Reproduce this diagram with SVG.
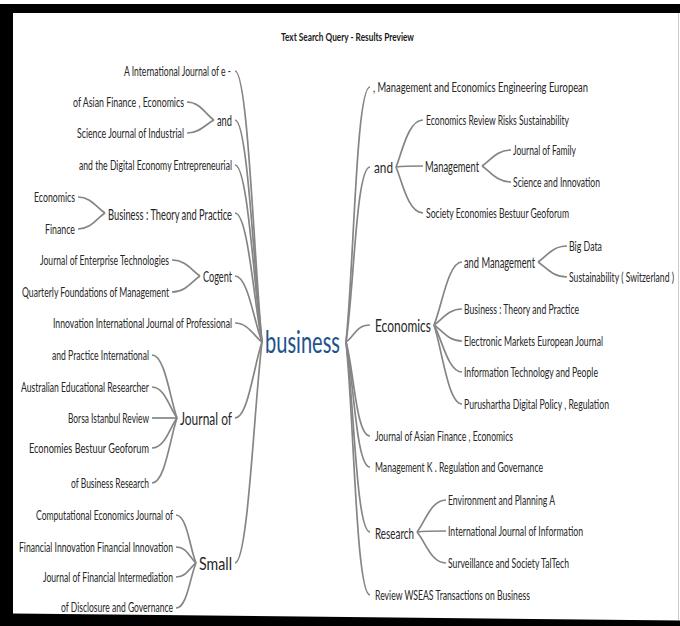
<svg xmlns="http://www.w3.org/2000/svg" width="680" height="626" viewBox="0 0 680 626">
<style>
text{font-family:Lato,"Open Sans","Liberation Sans",sans-serif;fill:#262626;dominant-baseline:central}
.lf{font-size:13px}
.r1{font-size:13.5px}
.md{font-size:14.5px}
.l1{font-size:16px}
.l2{font-size:18px}
.ttl{font-size:11.5px;font-weight:bold;fill:#1a1a1a}
.root{font-size:30px;fill:#22528c}
.c path{fill:none;stroke:#858585;stroke-width:1.7}
</style>
<rect width="680" height="626" fill="#fff"/>
<g id="frame">
<path d="M0,4 H680 V13 H13 V613.5 L680,620.5 V626 H0 Z" fill="#000"/>
<line x1="678.5" y1="13" x2="678.5" y2="620" stroke="#ccc" stroke-width="1"/>
</g>
<text class="ttl" x="281" y="36.5" textLength="133" lengthAdjust="spacingAndGlyphs">Text Search Query - Results Preview</text>
<g class="c" id="connectors">
<path d="M235,71 C248,71 254,260 262,342"/>
<path d="M235,120 C248,120 254,276 262,342"/>
<path d="M235,165 C248,165 254,289 262,342"/>
<path d="M235,213 C248,213 254,303 262,342"/>
<path d="M235,276 C248,276 254,322 262,342"/>
<path d="M235,323 C248,323 254,336 262,342"/>
<path d="M235,418 C248,418 254,365 262,342"/>
<path d="M235,563 C248,563 254,408 262,342"/>
<path d="M346,342 C354,265 356,87 370,87"/>
<path d="M346,342 C354,289 356,167 370,167"/>
<path d="M346,342 C354,337 356,325 370,325"/>
<path d="M346,342 C354,370 356,436 370,436"/>
<path d="M346,342 C354,380 356,467 370,467"/>
<path d="M346,342 C354,399 356,532 370,532"/>
<path d="M346,342 C354,418 356,595 370,595"/>
<path d="M187,102 C200,102 206,115 214,120"/>
<path d="M187,133 C200,133 206,124 214,120"/>
<path d="M78,197 C91,197 97,208 105,213"/>
<path d="M78,229 C91,229 97,218 105,213"/>
<path d="M172,260 C186,260 192,271 200,276"/>
<path d="M172,292 C186,292 192,281 200,276"/>
<path d="M152,355 C165,355 170,399 177,418"/>
<path d="M152,387 C165,387 170,409 177,418"/>
<path d="M152,418 C165,418 170,418 177,418"/>
<path d="M152,448 C165,448 170,427 177,418"/>
<path d="M152,483 C165,483 170,438 177,418"/>
<path d="M176,515 C187,515 190,549 196,563"/>
<path d="M176,547 C187,547 190,558 196,563"/>
<path d="M176,577 C187,577 190,567 196,563"/>
<path d="M176,608 C187,608 190,577 196,563"/>
<path d="M396,167 C402,153 408,120 423,120"/>
<path d="M396,167 C404,166 410,166 423,166"/>
<path d="M396,167 C402,181 408,213 423,213"/>
<path d="M482,166 C490,161 496,150 511,150"/>
<path d="M482,166 C490,171 496,182 511,182"/>
<path d="M434,325 C442,306 448,262 462,262"/>
<path d="M434,325 C442,320 448,309 462,309"/>
<path d="M434,325 C442,330 448,341 462,341"/>
<path d="M434,325 C442,339 448,372 462,372"/>
<path d="M434,325 C442,349 448,404 462,404"/>
<path d="M538,262 C546,257 552,246 567,246"/>
<path d="M538,262 C546,267 552,277 567,277"/>
<path d="M417,532 C425,522 431,500 446,500"/>
<path d="M417,532 C425,531 431,531 446,531"/>
<path d="M417,532 C425,541 431,563 446,563"/>
</g>
<g id="root"><text class="root" x="265" y="341" textLength="75" lengthAdjust="spacingAndGlyphs">business</text></g>
<g id="left">
<g id="n-l1"><text class="r1" x="124" y="71" textLength="107" lengthAdjust="spacingAndGlyphs">A International Journal of e -</text></g>
<g id="n-l2"><text class="l1" x="217" y="119" textLength="15" lengthAdjust="spacingAndGlyphs">and</text></g>
<g id="n-l2a"><text class="lf" x="73" y="102" textLength="111" lengthAdjust="spacingAndGlyphs">of Asian Finance , Economics</text></g>
<g id="n-l2b"><text class="lf" x="77" y="133" textLength="107" lengthAdjust="spacingAndGlyphs">Science Journal of Industrial</text></g>
<g id="n-l3"><text class="r1" x="79" y="165" textLength="153" lengthAdjust="spacingAndGlyphs">and the Digital Economy Entrepreneurial</text></g>
<g id="n-l4"><text class="l1" x="108" y="213" textLength="124" lengthAdjust="spacingAndGlyphs">Business : Theory and Practice</text></g>
<g id="n-l4a"><text class="lf" x="34" y="197" textLength="41" lengthAdjust="spacingAndGlyphs">Economics</text></g>
<g id="n-l4b"><text class="lf" x="45" y="229" textLength="30" lengthAdjust="spacingAndGlyphs">Finance</text></g>
<g id="n-l5"><text class="md" x="203" y="276" textLength="29" lengthAdjust="spacingAndGlyphs">Cogent</text></g>
<g id="n-l5a"><text class="lf" x="40" y="260" textLength="129" lengthAdjust="spacingAndGlyphs">Journal of Enterprise Technologies</text></g>
<g id="n-l5b"><text class="lf" x="22" y="292" textLength="147" lengthAdjust="spacingAndGlyphs">Quarterly Foundations of Management</text></g>
<g id="n-l6"><text class="r1" x="53" y="323" textLength="179" lengthAdjust="spacingAndGlyphs">Innovation International Journal of Professional</text></g>
<g id="n-l7"><text class="l2" x="180" y="418" textLength="52" lengthAdjust="spacingAndGlyphs">Journal of</text></g>
<g id="n-l7a"><text class="lf" x="52" y="355" textLength="97" lengthAdjust="spacingAndGlyphs">and Practice International</text></g>
<g id="n-l7b"><text class="lf" x="21" y="387" textLength="128" lengthAdjust="spacingAndGlyphs">Australian Educational Researcher</text></g>
<g id="n-l7c"><text class="lf" x="68" y="418" textLength="81" lengthAdjust="spacingAndGlyphs">Borsa Istanbul Review</text></g>
<g id="n-l7d"><text class="lf" x="29" y="448" textLength="120" lengthAdjust="spacingAndGlyphs">Economies Bestuur Geoforum</text></g>
<g id="n-l7e"><text class="lf" x="71" y="483" textLength="78" lengthAdjust="spacingAndGlyphs">of Business Research</text></g>
<g id="n-l8"><text class="l2" x="199" y="563" textLength="33" lengthAdjust="spacingAndGlyphs">Small</text></g>
<g id="n-l8a"><text class="lf" x="36" y="515" textLength="137" lengthAdjust="spacingAndGlyphs">Computational Economics Journal of</text></g>
<g id="n-l8b"><text class="lf" x="19" y="547" textLength="154" lengthAdjust="spacingAndGlyphs">Financial Innovation Financial Innovation</text></g>
<g id="n-l8c"><text class="lf" x="43" y="577" textLength="130" lengthAdjust="spacingAndGlyphs">Journal of Financial Intermediation</text></g>
<g id="n-l8d"><text class="lf" x="61" y="607" textLength="112" lengthAdjust="spacingAndGlyphs">of Disclosure and Governance</text></g>
</g>
<g id="right">
<g id="n-r1"><text class="r1" x="373" y="87" textLength="215" lengthAdjust="spacingAndGlyphs">, Management and Economics Engineering European</text></g>
<g id="n-r2"><text class="l1" x="374" y="166" textLength="19" lengthAdjust="spacingAndGlyphs">and</text></g>
<g id="n-r2a"><text class="lf" x="426" y="120" textLength="143" lengthAdjust="spacingAndGlyphs">Economics Review Risks Sustainability</text></g>
<g id="n-r2b"><text class="md" x="425" y="166" textLength="54" lengthAdjust="spacingAndGlyphs">Management</text></g>
<g id="n-r2b1"><text class="lf" x="513" y="150" textLength="63" lengthAdjust="spacingAndGlyphs">Journal of Family</text></g>
<g id="n-r2b2"><text class="lf" x="513" y="182" textLength="87" lengthAdjust="spacingAndGlyphs">Science and Innovation</text></g>
<g id="n-r2c"><text class="lf" x="426" y="213" textLength="143" lengthAdjust="spacingAndGlyphs">Society Economies Bestuur Geoforum</text></g>
<g id="n-r3"><text class="l2" x="375" y="325" textLength="56" lengthAdjust="spacingAndGlyphs">Economics</text></g>
<g id="n-r3a"><text class="md" x="464" y="262" textLength="71" lengthAdjust="spacingAndGlyphs">and Management</text></g>
<g id="n-r3a1"><text class="lf" x="569" y="246" textLength="33" lengthAdjust="spacingAndGlyphs">Big Data</text></g>
<g id="n-r3a2"><text class="lf" x="569" y="277" textLength="105" lengthAdjust="spacingAndGlyphs">Sustainability ( Switzerland )</text></g>
<g id="n-r3b"><text class="lf" x="464" y="309" textLength="115" lengthAdjust="spacingAndGlyphs">Business : Theory and Practice</text></g>
<g id="n-r3c"><text class="lf" x="464" y="341" textLength="139" lengthAdjust="spacingAndGlyphs">Electronic Markets European Journal</text></g>
<g id="n-r3d"><text class="lf" x="464" y="372" textLength="134" lengthAdjust="spacingAndGlyphs">Information Technology and People</text></g>
<g id="n-r3e"><text class="lf" x="464" y="404" textLength="145" lengthAdjust="spacingAndGlyphs">Purushartha Digital Policy , Regulation</text></g>
<g id="n-r4"><text class="r1" x="375" y="436" textLength="138" lengthAdjust="spacingAndGlyphs">Journal of Asian Finance , Economics</text></g>
<g id="n-r5"><text class="r1" x="375" y="467" textLength="168" lengthAdjust="spacingAndGlyphs">Management K . Regulation and Governance</text></g>
<g id="n-r6"><text class="l1" x="375" y="532" textLength="39" lengthAdjust="spacingAndGlyphs">Research</text></g>
<g id="n-r6a"><text class="lf" x="448" y="500" textLength="107" lengthAdjust="spacingAndGlyphs">Environment and Planning A</text></g>
<g id="n-r6b"><text class="lf" x="448" y="531" textLength="135" lengthAdjust="spacingAndGlyphs">International Journal of Information</text></g>
<g id="n-r6c"><text class="lf" x="448" y="563" textLength="121" lengthAdjust="spacingAndGlyphs">Surveillance and Society TalTech</text></g>
<g id="n-r7"><text class="r1" x="375" y="595" textLength="155" lengthAdjust="spacingAndGlyphs">Review WSEAS Transactions on Business</text></g>
</g>
</svg>
